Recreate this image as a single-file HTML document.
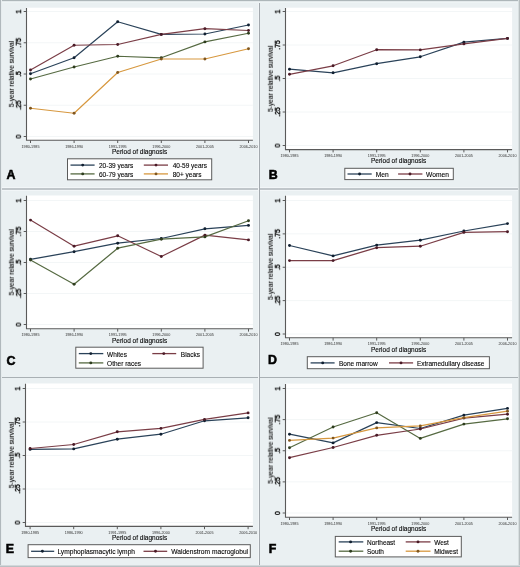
<!DOCTYPE html>
<html><head><meta charset="utf-8"><style>
html,body{margin:0;padding:0;background:#eaf0f2;}
svg{display:block;}
text{font-family:"Liberation Sans", sans-serif;fill:#000;stroke:#000;stroke-width:0.1px;will-change:transform;}
.yl{stroke-width:0.3px;}
.xl{stroke-width:0;fill:#333;}
</style></head><body>
<svg width="520" height="567" viewBox="0 0 520 567">
<rect x="0" y="0" width="520" height="567" fill="#eaf0f2"/>
<rect x="26.5" y="7.7" width="226.4" height="132.5" fill="#fff"/>
<line x1="26.5" x2="252.9" y1="136.5" y2="136.5" stroke="#f3f6f7" stroke-width="1"/>
<line x1="26.5" x2="252.9" y1="105.25" y2="105.25" stroke="#f3f6f7" stroke-width="1"/>
<line x1="26.5" x2="252.9" y1="74" y2="74" stroke="#f3f6f7" stroke-width="1"/>
<line x1="26.5" x2="252.9" y1="42.75" y2="42.75" stroke="#f3f6f7" stroke-width="1"/>
<line x1="26.5" x2="252.9" y1="11.5" y2="11.5" stroke="#f3f6f7" stroke-width="1"/>
<path d="M26.5 8V140.2H252.9" fill="none" stroke="#5a5a5a" stroke-width="1.1"/>
<line x1="23.7" x2="26.5" y1="136.5" y2="136.5" stroke="#5a5a5a" stroke-width="1"/>
<text transform="translate(20.95 136.5) rotate(-90)" text-anchor="middle" font-size="6.8" class="yl">0</text>
<line x1="23.7" x2="26.5" y1="105.25" y2="105.25" stroke="#5a5a5a" stroke-width="1"/>
<text transform="translate(20.95 105.25) rotate(-90)" text-anchor="middle" font-size="6.8" class="yl">.25</text>
<line x1="23.7" x2="26.5" y1="74" y2="74" stroke="#5a5a5a" stroke-width="1"/>
<text transform="translate(20.95 74) rotate(-90)" text-anchor="middle" font-size="6.8" class="yl">.5</text>
<line x1="23.7" x2="26.5" y1="42.75" y2="42.75" stroke="#5a5a5a" stroke-width="1"/>
<text transform="translate(20.95 42.75) rotate(-90)" text-anchor="middle" font-size="6.8" class="yl">.75</text>
<line x1="23.7" x2="26.5" y1="11.5" y2="11.5" stroke="#5a5a5a" stroke-width="1"/>
<text transform="translate(20.95 11.5) rotate(-90)" text-anchor="middle" font-size="6.8" class="yl">1</text>
<line x1="30.5" x2="30.5" y1="140.2" y2="143" stroke="#5a5a5a" stroke-width="1"/>
<text x="30.5" y="147.7" text-anchor="middle" font-size="3.75" class="xl">1980-1985</text>
<line x1="74.1" x2="74.1" y1="140.2" y2="143" stroke="#5a5a5a" stroke-width="1"/>
<text x="74.1" y="147.7" text-anchor="middle" font-size="3.75" class="xl">1986-1990</text>
<line x1="117.7" x2="117.7" y1="140.2" y2="143" stroke="#5a5a5a" stroke-width="1"/>
<text x="117.7" y="147.7" text-anchor="middle" font-size="3.75" class="xl">1991-1995</text>
<line x1="161.3" x2="161.3" y1="140.2" y2="143" stroke="#5a5a5a" stroke-width="1"/>
<text x="161.3" y="147.7" text-anchor="middle" font-size="3.75" class="xl">1996-2000</text>
<line x1="204.9" x2="204.9" y1="140.2" y2="143" stroke="#5a5a5a" stroke-width="1"/>
<text x="204.9" y="147.7" text-anchor="middle" font-size="3.75" class="xl">2001-2005</text>
<line x1="248.5" x2="248.5" y1="140.2" y2="143" stroke="#5a5a5a" stroke-width="1"/>
<text x="248.5" y="147.7" text-anchor="middle" font-size="3.75" class="xl">2006-2010</text>
<text x="112" y="153.8" font-size="6.45" textLength="55.2" lengthAdjust="spacingAndGlyphs">Period of diagnosis</text>
<text transform="translate(13.8 74.1) rotate(-90)" x="-33.1" font-size="6.6" textLength="66.2" lengthAdjust="spacingAndGlyphs">5-year relative survival</text>
<polyline points="30.5,73.75 74.1,57.75 117.7,21.75 161.3,34.4 204.9,34 248.5,25" fill="none" stroke="#2a4259" stroke-width="1.2" stroke-linejoin="round"/>
<circle cx="30.5" cy="73.75" r="1.45" fill="#101f30"/>
<circle cx="74.1" cy="57.75" r="1.45" fill="#101f30"/>
<circle cx="117.7" cy="21.75" r="1.45" fill="#101f30"/>
<circle cx="161.3" cy="34.4" r="1.45" fill="#101f30"/>
<circle cx="204.9" cy="34" r="1.45" fill="#101f30"/>
<circle cx="248.5" cy="25" r="1.45" fill="#101f30"/>
<polyline points="30.5,70 74.1,45.25 117.7,44.5 161.3,34.4 204.9,28.7 248.5,30.5" fill="none" stroke="#7a3d46" stroke-width="1.2" stroke-linejoin="round"/>
<circle cx="30.5" cy="70" r="1.45" fill="#4a1a26"/>
<circle cx="74.1" cy="45.25" r="1.45" fill="#4a1a26"/>
<circle cx="117.7" cy="44.5" r="1.45" fill="#4a1a26"/>
<circle cx="161.3" cy="34.4" r="1.45" fill="#4a1a26"/>
<circle cx="204.9" cy="28.7" r="1.45" fill="#4a1a26"/>
<circle cx="248.5" cy="30.5" r="1.45" fill="#4a1a26"/>
<polyline points="30.5,79 74.1,67 117.7,56.25 161.3,57.8 204.9,41.9 248.5,33.25" fill="none" stroke="#566a42" stroke-width="1.2" stroke-linejoin="round"/>
<circle cx="30.5" cy="79" r="1.45" fill="#2e3d1e"/>
<circle cx="74.1" cy="67" r="1.45" fill="#2e3d1e"/>
<circle cx="117.7" cy="56.25" r="1.45" fill="#2e3d1e"/>
<circle cx="161.3" cy="57.8" r="1.45" fill="#2e3d1e"/>
<circle cx="204.9" cy="41.9" r="1.45" fill="#2e3d1e"/>
<circle cx="248.5" cy="33.25" r="1.45" fill="#2e3d1e"/>
<polyline points="30.5,108.25 74.1,113.25 117.7,72.5 161.3,59 204.9,59 248.5,48.75" fill="none" stroke="#d7983f" stroke-width="1.2" stroke-linejoin="round"/>
<circle cx="30.5" cy="108.25" r="1.45" fill="#80561e"/>
<circle cx="74.1" cy="113.25" r="1.45" fill="#80561e"/>
<circle cx="117.7" cy="72.5" r="1.45" fill="#80561e"/>
<circle cx="161.3" cy="59" r="1.45" fill="#80561e"/>
<circle cx="204.9" cy="59" r="1.45" fill="#80561e"/>
<circle cx="248.5" cy="48.75" r="1.45" fill="#80561e"/>
<rect x="67.5" y="158.8" width="144.2" height="21" fill="#fff" stroke="#5a5a5a" stroke-width="1"/>
<line x1="70.5" x2="94.6" y1="165.1" y2="165.1" stroke="#2a4259" stroke-width="1.3"/>
<circle cx="82.7" cy="165.1" r="1.45" fill="#101f30"/>
<text x="99" y="168.1" font-size="6.5">20-39 years</text>
<line x1="143.8" x2="168" y1="165.1" y2="165.1" stroke="#7a3d46" stroke-width="1.3"/>
<circle cx="156" cy="165.1" r="1.45" fill="#4a1a26"/>
<text x="172.7" y="168.1" font-size="6.5">40-59 years</text>
<line x1="70.5" x2="94.6" y1="173.9" y2="173.9" stroke="#566a42" stroke-width="1.3"/>
<circle cx="82.7" cy="173.9" r="1.45" fill="#2e3d1e"/>
<text x="99" y="176.9" font-size="6.5">60-79 years</text>
<line x1="143.8" x2="168" y1="173.9" y2="173.9" stroke="#d7983f" stroke-width="1.3"/>
<circle cx="156" cy="173.9" r="1.45" fill="#80561e"/>
<text x="172.7" y="176.9" font-size="6.5">80+ years</text>
<text x="6.4" y="178.9" font-size="12.4" font-weight="bold" style="stroke-width:0.55px">A</text>
<rect x="285.5" y="7.7" width="226.6" height="141.9" fill="#fff"/>
<line x1="285.5" x2="512.1" y1="145.5" y2="145.5" stroke="#f3f6f7" stroke-width="1"/>
<line x1="285.5" x2="512.1" y1="112" y2="112" stroke="#f3f6f7" stroke-width="1"/>
<line x1="285.5" x2="512.1" y1="78.5" y2="78.5" stroke="#f3f6f7" stroke-width="1"/>
<line x1="285.5" x2="512.1" y1="45" y2="45" stroke="#f3f6f7" stroke-width="1"/>
<line x1="285.5" x2="512.1" y1="11.5" y2="11.5" stroke="#f3f6f7" stroke-width="1"/>
<path d="M285.5 8V149.6H512.1" fill="none" stroke="#5a5a5a" stroke-width="1.1"/>
<line x1="282.7" x2="285.5" y1="145.5" y2="145.5" stroke="#5a5a5a" stroke-width="1"/>
<text transform="translate(279.95 145.5) rotate(-90)" text-anchor="middle" font-size="6.8" class="yl">0</text>
<line x1="282.7" x2="285.5" y1="112" y2="112" stroke="#5a5a5a" stroke-width="1"/>
<text transform="translate(279.95 112) rotate(-90)" text-anchor="middle" font-size="6.8" class="yl">.25</text>
<line x1="282.7" x2="285.5" y1="78.5" y2="78.5" stroke="#5a5a5a" stroke-width="1"/>
<text transform="translate(279.95 78.5) rotate(-90)" text-anchor="middle" font-size="6.8" class="yl">.5</text>
<line x1="282.7" x2="285.5" y1="45" y2="45" stroke="#5a5a5a" stroke-width="1"/>
<text transform="translate(279.95 45) rotate(-90)" text-anchor="middle" font-size="6.8" class="yl">.75</text>
<line x1="282.7" x2="285.5" y1="11.5" y2="11.5" stroke="#5a5a5a" stroke-width="1"/>
<text transform="translate(279.95 11.5) rotate(-90)" text-anchor="middle" font-size="6.8" class="yl">1</text>
<line x1="289.5" x2="289.5" y1="149.6" y2="152.4" stroke="#5a5a5a" stroke-width="1"/>
<text x="289.5" y="156.8" text-anchor="middle" font-size="3.75" class="xl">1980-1985</text>
<line x1="333.1" x2="333.1" y1="149.6" y2="152.4" stroke="#5a5a5a" stroke-width="1"/>
<text x="333.1" y="156.8" text-anchor="middle" font-size="3.75" class="xl">1986-1990</text>
<line x1="376.7" x2="376.7" y1="149.6" y2="152.4" stroke="#5a5a5a" stroke-width="1"/>
<text x="376.7" y="156.8" text-anchor="middle" font-size="3.75" class="xl">1991-1995</text>
<line x1="420.3" x2="420.3" y1="149.6" y2="152.4" stroke="#5a5a5a" stroke-width="1"/>
<text x="420.3" y="156.8" text-anchor="middle" font-size="3.75" class="xl">1996-2000</text>
<line x1="463.9" x2="463.9" y1="149.6" y2="152.4" stroke="#5a5a5a" stroke-width="1"/>
<text x="463.9" y="156.8" text-anchor="middle" font-size="3.75" class="xl">2001-2005</text>
<line x1="507.5" x2="507.5" y1="149.6" y2="152.4" stroke="#5a5a5a" stroke-width="1"/>
<text x="507.5" y="156.8" text-anchor="middle" font-size="3.75" class="xl">2006-2010</text>
<text x="371" y="162.8" font-size="6.45" textLength="55.2" lengthAdjust="spacingAndGlyphs">Period of diagnosis</text>
<text transform="translate(272.8 78.8) rotate(-90)" x="-33.1" font-size="6.6" textLength="66.2" lengthAdjust="spacingAndGlyphs">5-year relative survival</text>
<polyline points="289.5,69.2 333.1,72.8 376.7,63.7 420.3,56.8 463.9,42.1 507.5,38.4" fill="none" stroke="#2a4259" stroke-width="1.2" stroke-linejoin="round"/>
<circle cx="289.5" cy="69.2" r="1.45" fill="#101f30"/>
<circle cx="333.1" cy="72.8" r="1.45" fill="#101f30"/>
<circle cx="376.7" cy="63.7" r="1.45" fill="#101f30"/>
<circle cx="420.3" cy="56.8" r="1.45" fill="#101f30"/>
<circle cx="463.9" cy="42.1" r="1.45" fill="#101f30"/>
<circle cx="507.5" cy="38.4" r="1.45" fill="#101f30"/>
<polyline points="289.5,74.3 333.1,65.8 376.7,49.7 420.3,49.9 463.9,43.9 507.5,38.4" fill="none" stroke="#7a3d46" stroke-width="1.2" stroke-linejoin="round"/>
<circle cx="289.5" cy="74.3" r="1.45" fill="#4a1a26"/>
<circle cx="333.1" cy="65.8" r="1.45" fill="#4a1a26"/>
<circle cx="376.7" cy="49.7" r="1.45" fill="#4a1a26"/>
<circle cx="420.3" cy="49.9" r="1.45" fill="#4a1a26"/>
<circle cx="463.9" cy="43.9" r="1.45" fill="#4a1a26"/>
<circle cx="507.5" cy="38.4" r="1.45" fill="#4a1a26"/>
<rect x="344.8" y="168.3" width="108.5" height="11.3" fill="#fff" stroke="#5a5a5a" stroke-width="1"/>
<line x1="347.5" x2="371.7" y1="174" y2="174" stroke="#2a4259" stroke-width="1.3"/>
<circle cx="359.6" cy="174" r="1.45" fill="#101f30"/>
<text x="375.8" y="177" font-size="6.65">Men</text>
<line x1="398.1" x2="422.4" y1="174" y2="174" stroke="#7a3d46" stroke-width="1.3"/>
<circle cx="410" cy="174" r="1.45" fill="#4a1a26"/>
<text x="426.1" y="177" font-size="6.65">Women</text>
<text x="268.7" y="178.8" font-size="12.4" font-weight="bold" style="stroke-width:0.55px">B</text>
<rect x="26.5" y="195.5" width="226.4" height="133.3" fill="#fff"/>
<line x1="26.5" x2="252.9" y1="324.5" y2="324.5" stroke="#f3f6f7" stroke-width="1"/>
<line x1="26.5" x2="252.9" y1="293.5" y2="293.5" stroke="#f3f6f7" stroke-width="1"/>
<line x1="26.5" x2="252.9" y1="262.5" y2="262.5" stroke="#f3f6f7" stroke-width="1"/>
<line x1="26.5" x2="252.9" y1="231.5" y2="231.5" stroke="#f3f6f7" stroke-width="1"/>
<line x1="26.5" x2="252.9" y1="200.5" y2="200.5" stroke="#f3f6f7" stroke-width="1"/>
<path d="M26.5 195.8V328.8H252.9" fill="none" stroke="#5a5a5a" stroke-width="1.1"/>
<line x1="23.7" x2="26.5" y1="324.5" y2="324.5" stroke="#5a5a5a" stroke-width="1"/>
<text transform="translate(20.95 324.5) rotate(-90)" text-anchor="middle" font-size="6.8" class="yl">0</text>
<line x1="23.7" x2="26.5" y1="293.5" y2="293.5" stroke="#5a5a5a" stroke-width="1"/>
<text transform="translate(20.95 293.5) rotate(-90)" text-anchor="middle" font-size="6.8" class="yl">.25</text>
<line x1="23.7" x2="26.5" y1="262.5" y2="262.5" stroke="#5a5a5a" stroke-width="1"/>
<text transform="translate(20.95 262.5) rotate(-90)" text-anchor="middle" font-size="6.8" class="yl">.5</text>
<line x1="23.7" x2="26.5" y1="231.5" y2="231.5" stroke="#5a5a5a" stroke-width="1"/>
<text transform="translate(20.95 231.5) rotate(-90)" text-anchor="middle" font-size="6.8" class="yl">.75</text>
<line x1="23.7" x2="26.5" y1="200.5" y2="200.5" stroke="#5a5a5a" stroke-width="1"/>
<text transform="translate(20.95 200.5) rotate(-90)" text-anchor="middle" font-size="6.8" class="yl">1</text>
<line x1="30.5" x2="30.5" y1="328.8" y2="331.6" stroke="#5a5a5a" stroke-width="1"/>
<text x="30.5" y="336" text-anchor="middle" font-size="3.75" class="xl">1980-1985</text>
<line x1="74.1" x2="74.1" y1="328.8" y2="331.6" stroke="#5a5a5a" stroke-width="1"/>
<text x="74.1" y="336" text-anchor="middle" font-size="3.75" class="xl">1986-1990</text>
<line x1="117.7" x2="117.7" y1="328.8" y2="331.6" stroke="#5a5a5a" stroke-width="1"/>
<text x="117.7" y="336" text-anchor="middle" font-size="3.75" class="xl">1991-1995</text>
<line x1="161.3" x2="161.3" y1="328.8" y2="331.6" stroke="#5a5a5a" stroke-width="1"/>
<text x="161.3" y="336" text-anchor="middle" font-size="3.75" class="xl">1996-2000</text>
<line x1="204.9" x2="204.9" y1="328.8" y2="331.6" stroke="#5a5a5a" stroke-width="1"/>
<text x="204.9" y="336" text-anchor="middle" font-size="3.75" class="xl">2001-2005</text>
<line x1="248.5" x2="248.5" y1="328.8" y2="331.6" stroke="#5a5a5a" stroke-width="1"/>
<text x="248.5" y="336" text-anchor="middle" font-size="3.75" class="xl">2006-2010</text>
<text x="112" y="342.5" font-size="6.45" textLength="55.2" lengthAdjust="spacingAndGlyphs">Period of diagnosis</text>
<text transform="translate(13.8 262.3) rotate(-90)" x="-33.1" font-size="6.6" textLength="66.2" lengthAdjust="spacingAndGlyphs">5-year relative survival</text>
<polyline points="30.5,259.3 74.1,251.7 117.7,243.2 161.3,238.5 204.9,228.8 248.5,225.4" fill="none" stroke="#2a4259" stroke-width="1.2" stroke-linejoin="round"/>
<circle cx="30.5" cy="259.3" r="1.45" fill="#101f30"/>
<circle cx="74.1" cy="251.7" r="1.45" fill="#101f30"/>
<circle cx="117.7" cy="243.2" r="1.45" fill="#101f30"/>
<circle cx="161.3" cy="238.5" r="1.45" fill="#101f30"/>
<circle cx="204.9" cy="228.8" r="1.45" fill="#101f30"/>
<circle cx="248.5" cy="225.4" r="1.45" fill="#101f30"/>
<polyline points="30.5,220.1 74.1,246.2 117.7,235.8 161.3,256.5 204.9,235.1 248.5,239.9" fill="none" stroke="#7a3d46" stroke-width="1.2" stroke-linejoin="round"/>
<circle cx="30.5" cy="220.1" r="1.45" fill="#4a1a26"/>
<circle cx="74.1" cy="246.2" r="1.45" fill="#4a1a26"/>
<circle cx="117.7" cy="235.8" r="1.45" fill="#4a1a26"/>
<circle cx="161.3" cy="256.5" r="1.45" fill="#4a1a26"/>
<circle cx="204.9" cy="235.1" r="1.45" fill="#4a1a26"/>
<circle cx="248.5" cy="239.9" r="1.45" fill="#4a1a26"/>
<polyline points="30.5,260 74.1,284.2 117.7,248.2 161.3,239.2 204.9,236.9 248.5,220.8" fill="none" stroke="#566a42" stroke-width="1.2" stroke-linejoin="round"/>
<circle cx="30.5" cy="260" r="1.45" fill="#2e3d1e"/>
<circle cx="74.1" cy="284.2" r="1.45" fill="#2e3d1e"/>
<circle cx="117.7" cy="248.2" r="1.45" fill="#2e3d1e"/>
<circle cx="161.3" cy="239.2" r="1.45" fill="#2e3d1e"/>
<circle cx="204.9" cy="236.9" r="1.45" fill="#2e3d1e"/>
<circle cx="248.5" cy="220.8" r="1.45" fill="#2e3d1e"/>
<rect x="75.8" y="347.2" width="127.3" height="21" fill="#fff" stroke="#5a5a5a" stroke-width="1"/>
<line x1="78.8" x2="103.3" y1="353.6" y2="353.6" stroke="#2a4259" stroke-width="1.3"/>
<circle cx="90.8" cy="353.6" r="1.45" fill="#101f30"/>
<text x="107.1" y="356.6" font-size="6.5">Whites</text>
<line x1="152.3" x2="176.2" y1="353.6" y2="353.6" stroke="#7a3d46" stroke-width="1.3"/>
<circle cx="163.8" cy="353.6" r="1.45" fill="#4a1a26"/>
<text x="180.8" y="356.6" font-size="6.5">Blacks</text>
<line x1="78.8" x2="103.3" y1="362.9" y2="362.9" stroke="#566a42" stroke-width="1.3"/>
<circle cx="90.8" cy="362.9" r="1.45" fill="#2e3d1e"/>
<text x="107.1" y="365.9" font-size="6.5">Other races</text>
<text x="6.4" y="364.5" font-size="12.4" font-weight="bold" style="stroke-width:0.55px">C</text>
<rect x="285.5" y="195.5" width="226.6" height="142.3" fill="#fff"/>
<line x1="285.5" x2="512.1" y1="334" y2="334" stroke="#f3f6f7" stroke-width="1"/>
<line x1="285.5" x2="512.1" y1="300.62" y2="300.62" stroke="#f3f6f7" stroke-width="1"/>
<line x1="285.5" x2="512.1" y1="267.25" y2="267.25" stroke="#f3f6f7" stroke-width="1"/>
<line x1="285.5" x2="512.1" y1="233.88" y2="233.88" stroke="#f3f6f7" stroke-width="1"/>
<line x1="285.5" x2="512.1" y1="200.5" y2="200.5" stroke="#f3f6f7" stroke-width="1"/>
<path d="M285.5 195.8V337.8H512.1" fill="none" stroke="#5a5a5a" stroke-width="1.1"/>
<line x1="282.7" x2="285.5" y1="334" y2="334" stroke="#5a5a5a" stroke-width="1"/>
<text transform="translate(279.95 334) rotate(-90)" text-anchor="middle" font-size="6.8" class="yl">0</text>
<line x1="282.7" x2="285.5" y1="300.62" y2="300.62" stroke="#5a5a5a" stroke-width="1"/>
<text transform="translate(279.95 300.62) rotate(-90)" text-anchor="middle" font-size="6.8" class="yl">.25</text>
<line x1="282.7" x2="285.5" y1="267.25" y2="267.25" stroke="#5a5a5a" stroke-width="1"/>
<text transform="translate(279.95 267.25) rotate(-90)" text-anchor="middle" font-size="6.8" class="yl">.5</text>
<line x1="282.7" x2="285.5" y1="233.88" y2="233.88" stroke="#5a5a5a" stroke-width="1"/>
<text transform="translate(279.95 233.88) rotate(-90)" text-anchor="middle" font-size="6.8" class="yl">.75</text>
<line x1="282.7" x2="285.5" y1="200.5" y2="200.5" stroke="#5a5a5a" stroke-width="1"/>
<text transform="translate(279.95 200.5) rotate(-90)" text-anchor="middle" font-size="6.8" class="yl">1</text>
<line x1="289.5" x2="289.5" y1="337.8" y2="340.6" stroke="#5a5a5a" stroke-width="1"/>
<text x="289.5" y="345" text-anchor="middle" font-size="3.75" class="xl">1980-1985</text>
<line x1="333.1" x2="333.1" y1="337.8" y2="340.6" stroke="#5a5a5a" stroke-width="1"/>
<text x="333.1" y="345" text-anchor="middle" font-size="3.75" class="xl">1986-1990</text>
<line x1="376.7" x2="376.7" y1="337.8" y2="340.6" stroke="#5a5a5a" stroke-width="1"/>
<text x="376.7" y="345" text-anchor="middle" font-size="3.75" class="xl">1991-1995</text>
<line x1="420.3" x2="420.3" y1="337.8" y2="340.6" stroke="#5a5a5a" stroke-width="1"/>
<text x="420.3" y="345" text-anchor="middle" font-size="3.75" class="xl">1996-2000</text>
<line x1="463.9" x2="463.9" y1="337.8" y2="340.6" stroke="#5a5a5a" stroke-width="1"/>
<text x="463.9" y="345" text-anchor="middle" font-size="3.75" class="xl">2001-2005</text>
<line x1="507.5" x2="507.5" y1="337.8" y2="340.6" stroke="#5a5a5a" stroke-width="1"/>
<text x="507.5" y="345" text-anchor="middle" font-size="3.75" class="xl">2006-2010</text>
<text x="371" y="351.9" font-size="6.45" textLength="55.2" lengthAdjust="spacingAndGlyphs">Period of diagnosis</text>
<text transform="translate(272.8 266.8) rotate(-90)" x="-33.1" font-size="6.6" textLength="66.2" lengthAdjust="spacingAndGlyphs">5-year relative survival</text>
<polyline points="289.5,245.5 333.1,255.9 376.7,245.1 420.3,240.2 463.9,231 507.5,223.6" fill="none" stroke="#2a4259" stroke-width="1.2" stroke-linejoin="round"/>
<circle cx="289.5" cy="245.5" r="1.45" fill="#101f30"/>
<circle cx="333.1" cy="255.9" r="1.45" fill="#101f30"/>
<circle cx="376.7" cy="245.1" r="1.45" fill="#101f30"/>
<circle cx="420.3" cy="240.2" r="1.45" fill="#101f30"/>
<circle cx="463.9" cy="231" r="1.45" fill="#101f30"/>
<circle cx="507.5" cy="223.6" r="1.45" fill="#101f30"/>
<polyline points="289.5,260.6 333.1,260.6 376.7,247.7 420.3,246.2 463.9,232.4 507.5,231.7" fill="none" stroke="#7a3d46" stroke-width="1.2" stroke-linejoin="round"/>
<circle cx="289.5" cy="260.6" r="1.45" fill="#4a1a26"/>
<circle cx="333.1" cy="260.6" r="1.45" fill="#4a1a26"/>
<circle cx="376.7" cy="247.7" r="1.45" fill="#4a1a26"/>
<circle cx="420.3" cy="246.2" r="1.45" fill="#4a1a26"/>
<circle cx="463.9" cy="232.4" r="1.45" fill="#4a1a26"/>
<circle cx="507.5" cy="231.7" r="1.45" fill="#4a1a26"/>
<rect x="307.3" y="356.7" width="182.1" height="12" fill="#fff" stroke="#5a5a5a" stroke-width="1"/>
<line x1="310.6" x2="334.6" y1="362.9" y2="362.9" stroke="#2a4259" stroke-width="1.3"/>
<circle cx="322.7" cy="362.9" r="1.45" fill="#101f30"/>
<text x="339" y="365.9" font-size="6.5">Bone marrow</text>
<line x1="389" x2="413.1" y1="362.9" y2="362.9" stroke="#7a3d46" stroke-width="1.3"/>
<circle cx="401" cy="362.9" r="1.45" fill="#4a1a26"/>
<text x="416.9" y="365.9" font-size="6.5">Extramedullary disease</text>
<text x="268.1" y="364" font-size="12.4" font-weight="bold" style="stroke-width:0.55px">D</text>
<rect x="25.5" y="383.5" width="227.4" height="142.9" fill="#fff"/>
<line x1="25.5" x2="252.9" y1="522.5" y2="522.5" stroke="#f3f6f7" stroke-width="1"/>
<line x1="25.5" x2="252.9" y1="489" y2="489" stroke="#f3f6f7" stroke-width="1"/>
<line x1="25.5" x2="252.9" y1="455.5" y2="455.5" stroke="#f3f6f7" stroke-width="1"/>
<line x1="25.5" x2="252.9" y1="422" y2="422" stroke="#f3f6f7" stroke-width="1"/>
<line x1="25.5" x2="252.9" y1="388.5" y2="388.5" stroke="#f3f6f7" stroke-width="1"/>
<path d="M25.5 383.8V526.4H252.9" fill="none" stroke="#5a5a5a" stroke-width="1.1"/>
<line x1="22.7" x2="25.5" y1="522.5" y2="522.5" stroke="#5a5a5a" stroke-width="1"/>
<text transform="translate(19.95 522.5) rotate(-90)" text-anchor="middle" font-size="6.8" class="yl">0</text>
<line x1="22.7" x2="25.5" y1="489" y2="489" stroke="#5a5a5a" stroke-width="1"/>
<text transform="translate(19.95 489) rotate(-90)" text-anchor="middle" font-size="6.8" class="yl">.25</text>
<line x1="22.7" x2="25.5" y1="455.5" y2="455.5" stroke="#5a5a5a" stroke-width="1"/>
<text transform="translate(19.95 455.5) rotate(-90)" text-anchor="middle" font-size="6.8" class="yl">.5</text>
<line x1="22.7" x2="25.5" y1="422" y2="422" stroke="#5a5a5a" stroke-width="1"/>
<text transform="translate(19.95 422) rotate(-90)" text-anchor="middle" font-size="6.8" class="yl">.75</text>
<line x1="22.7" x2="25.5" y1="388.5" y2="388.5" stroke="#5a5a5a" stroke-width="1"/>
<text transform="translate(19.95 388.5) rotate(-90)" text-anchor="middle" font-size="6.8" class="yl">1</text>
<line x1="30.1" x2="30.1" y1="526.4" y2="529.2" stroke="#5a5a5a" stroke-width="1"/>
<text x="30.1" y="533.6" text-anchor="middle" font-size="3.75" class="xl">1980-1985</text>
<line x1="73.7" x2="73.7" y1="526.4" y2="529.2" stroke="#5a5a5a" stroke-width="1"/>
<text x="73.7" y="533.6" text-anchor="middle" font-size="3.75" class="xl">1986-1990</text>
<line x1="117.3" x2="117.3" y1="526.4" y2="529.2" stroke="#5a5a5a" stroke-width="1"/>
<text x="117.3" y="533.6" text-anchor="middle" font-size="3.75" class="xl">1991-1995</text>
<line x1="160.9" x2="160.9" y1="526.4" y2="529.2" stroke="#5a5a5a" stroke-width="1"/>
<text x="160.9" y="533.6" text-anchor="middle" font-size="3.75" class="xl">1996-2000</text>
<line x1="204.5" x2="204.5" y1="526.4" y2="529.2" stroke="#5a5a5a" stroke-width="1"/>
<text x="204.5" y="533.6" text-anchor="middle" font-size="3.75" class="xl">2001-2005</text>
<line x1="248.1" x2="248.1" y1="526.4" y2="529.2" stroke="#5a5a5a" stroke-width="1"/>
<text x="248.1" y="533.6" text-anchor="middle" font-size="3.75" class="xl">2006-2010</text>
<text x="112" y="540.2" font-size="6.45" textLength="55.2" lengthAdjust="spacingAndGlyphs">Period of diagnosis</text>
<text transform="translate(13.8 455.1) rotate(-90)" x="-33.1" font-size="6.6" textLength="66.2" lengthAdjust="spacingAndGlyphs">5-year relative survival</text>
<polyline points="30.1,449.4 73.7,448.9 117.3,439.2 160.9,434.2 204.5,420.8 248.1,417.8" fill="none" stroke="#2a4259" stroke-width="1.2" stroke-linejoin="round"/>
<circle cx="30.1" cy="449.4" r="1.45" fill="#101f30"/>
<circle cx="73.7" cy="448.9" r="1.45" fill="#101f30"/>
<circle cx="117.3" cy="439.2" r="1.45" fill="#101f30"/>
<circle cx="160.9" cy="434.2" r="1.45" fill="#101f30"/>
<circle cx="204.5" cy="420.8" r="1.45" fill="#101f30"/>
<circle cx="248.1" cy="417.8" r="1.45" fill="#101f30"/>
<polyline points="30.1,448.5 73.7,444.5 117.3,431.8 160.9,428.4 204.5,419.4 248.1,412.9" fill="none" stroke="#7a3d46" stroke-width="1.2" stroke-linejoin="round"/>
<circle cx="30.1" cy="448.5" r="1.45" fill="#4a1a26"/>
<circle cx="73.7" cy="444.5" r="1.45" fill="#4a1a26"/>
<circle cx="117.3" cy="431.8" r="1.45" fill="#4a1a26"/>
<circle cx="160.9" cy="428.4" r="1.45" fill="#4a1a26"/>
<circle cx="204.5" cy="419.4" r="1.45" fill="#4a1a26"/>
<circle cx="248.1" cy="412.9" r="1.45" fill="#4a1a26"/>
<rect x="28.1" y="544.7" width="222.2" height="12.9" fill="#fff" stroke="#5a5a5a" stroke-width="1"/>
<line x1="31.1" x2="54.2" y1="551.3" y2="551.3" stroke="#2a4259" stroke-width="1.3"/>
<circle cx="42.4" cy="551.3" r="1.45" fill="#101f30"/>
<text x="57.4" y="554.3" font-size="6.65">Lymphoplasmacytic lymph</text>
<line x1="143.5" x2="167.2" y1="551.3" y2="551.3" stroke="#7a3d46" stroke-width="1.3"/>
<circle cx="155.5" cy="551.3" r="1.45" fill="#4a1a26"/>
<text x="171.2" y="554.3" font-size="6.65">Waldenstrom macroglobul</text>
<text x="5.8" y="553" font-size="12.4" font-weight="bold" style="stroke-width:0.55px">E</text>
<rect x="285.5" y="383.6" width="226.6" height="133.6" fill="#fff"/>
<line x1="285.5" x2="512.1" y1="513" y2="513" stroke="#f3f6f7" stroke-width="1"/>
<line x1="285.5" x2="512.1" y1="481.88" y2="481.88" stroke="#f3f6f7" stroke-width="1"/>
<line x1="285.5" x2="512.1" y1="450.75" y2="450.75" stroke="#f3f6f7" stroke-width="1"/>
<line x1="285.5" x2="512.1" y1="419.62" y2="419.62" stroke="#f3f6f7" stroke-width="1"/>
<line x1="285.5" x2="512.1" y1="388.5" y2="388.5" stroke="#f3f6f7" stroke-width="1"/>
<path d="M285.5 383.9V517.2H512.1" fill="none" stroke="#5a5a5a" stroke-width="1.1"/>
<line x1="282.7" x2="285.5" y1="513" y2="513" stroke="#5a5a5a" stroke-width="1"/>
<text transform="translate(279.95 513) rotate(-90)" text-anchor="middle" font-size="6.8" class="yl">0</text>
<line x1="282.7" x2="285.5" y1="481.88" y2="481.88" stroke="#5a5a5a" stroke-width="1"/>
<text transform="translate(279.95 481.88) rotate(-90)" text-anchor="middle" font-size="6.8" class="yl">.25</text>
<line x1="282.7" x2="285.5" y1="450.75" y2="450.75" stroke="#5a5a5a" stroke-width="1"/>
<text transform="translate(279.95 450.75) rotate(-90)" text-anchor="middle" font-size="6.8" class="yl">.5</text>
<line x1="282.7" x2="285.5" y1="419.62" y2="419.62" stroke="#5a5a5a" stroke-width="1"/>
<text transform="translate(279.95 419.62) rotate(-90)" text-anchor="middle" font-size="6.8" class="yl">.75</text>
<line x1="282.7" x2="285.5" y1="388.5" y2="388.5" stroke="#5a5a5a" stroke-width="1"/>
<text transform="translate(279.95 388.5) rotate(-90)" text-anchor="middle" font-size="6.8" class="yl">1</text>
<line x1="289.5" x2="289.5" y1="517.2" y2="520" stroke="#5a5a5a" stroke-width="1"/>
<text x="289.5" y="524.6" text-anchor="middle" font-size="3.75" class="xl">1980-1985</text>
<line x1="333.1" x2="333.1" y1="517.2" y2="520" stroke="#5a5a5a" stroke-width="1"/>
<text x="333.1" y="524.6" text-anchor="middle" font-size="3.75" class="xl">1986-1990</text>
<line x1="376.7" x2="376.7" y1="517.2" y2="520" stroke="#5a5a5a" stroke-width="1"/>
<text x="376.7" y="524.6" text-anchor="middle" font-size="3.75" class="xl">1991-1995</text>
<line x1="420.3" x2="420.3" y1="517.2" y2="520" stroke="#5a5a5a" stroke-width="1"/>
<text x="420.3" y="524.6" text-anchor="middle" font-size="3.75" class="xl">1996-2000</text>
<line x1="463.9" x2="463.9" y1="517.2" y2="520" stroke="#5a5a5a" stroke-width="1"/>
<text x="463.9" y="524.6" text-anchor="middle" font-size="3.75" class="xl">2001-2005</text>
<line x1="507.5" x2="507.5" y1="517.2" y2="520" stroke="#5a5a5a" stroke-width="1"/>
<text x="507.5" y="524.6" text-anchor="middle" font-size="3.75" class="xl">2006-2010</text>
<text x="371" y="531.2" font-size="6.45" textLength="55.2" lengthAdjust="spacingAndGlyphs">Period of diagnosis</text>
<text transform="translate(272.8 450.55) rotate(-90)" x="-33.1" font-size="6.6" textLength="66.2" lengthAdjust="spacingAndGlyphs">5-year relative survival</text>
<polyline points="289.5,434.2 333.1,442.9 376.7,422.6 420.3,428.5 463.9,415.1 507.5,408.4" fill="none" stroke="#2a4259" stroke-width="1.2" stroke-linejoin="round"/>
<circle cx="289.5" cy="434.2" r="1.45" fill="#101f30"/>
<circle cx="333.1" cy="442.9" r="1.45" fill="#101f30"/>
<circle cx="376.7" cy="422.6" r="1.45" fill="#101f30"/>
<circle cx="420.3" cy="428.5" r="1.45" fill="#101f30"/>
<circle cx="463.9" cy="415.1" r="1.45" fill="#101f30"/>
<circle cx="507.5" cy="408.4" r="1.45" fill="#101f30"/>
<polyline points="289.5,457.7 333.1,447.5 376.7,435.3 420.3,429 463.9,418.1 507.5,414.2" fill="none" stroke="#7a3d46" stroke-width="1.2" stroke-linejoin="round"/>
<circle cx="289.5" cy="457.7" r="1.45" fill="#4a1a26"/>
<circle cx="333.1" cy="447.5" r="1.45" fill="#4a1a26"/>
<circle cx="376.7" cy="435.3" r="1.45" fill="#4a1a26"/>
<circle cx="420.3" cy="429" r="1.45" fill="#4a1a26"/>
<circle cx="463.9" cy="418.1" r="1.45" fill="#4a1a26"/>
<circle cx="507.5" cy="414.2" r="1.45" fill="#4a1a26"/>
<polyline points="289.5,447.8 333.1,427 376.7,412.7 420.3,438.4 463.9,424.1 507.5,418.8" fill="none" stroke="#566a42" stroke-width="1.2" stroke-linejoin="round"/>
<circle cx="289.5" cy="447.8" r="1.45" fill="#2e3d1e"/>
<circle cx="333.1" cy="427" r="1.45" fill="#2e3d1e"/>
<circle cx="376.7" cy="412.7" r="1.45" fill="#2e3d1e"/>
<circle cx="420.3" cy="438.4" r="1.45" fill="#2e3d1e"/>
<circle cx="463.9" cy="424.1" r="1.45" fill="#2e3d1e"/>
<circle cx="507.5" cy="418.8" r="1.45" fill="#2e3d1e"/>
<polyline points="289.5,440.4 333.1,438.1 376.7,427.9 420.3,425.9 463.9,417.6 507.5,411.2" fill="none" stroke="#d7983f" stroke-width="1.2" stroke-linejoin="round"/>
<circle cx="289.5" cy="440.4" r="1.45" fill="#80561e"/>
<circle cx="333.1" cy="438.1" r="1.45" fill="#80561e"/>
<circle cx="376.7" cy="427.9" r="1.45" fill="#80561e"/>
<circle cx="420.3" cy="425.9" r="1.45" fill="#80561e"/>
<circle cx="463.9" cy="417.6" r="1.45" fill="#80561e"/>
<circle cx="507.5" cy="411.2" r="1.45" fill="#80561e"/>
<rect x="335.3" y="536.4" width="126" height="20.5" fill="#fff" stroke="#5a5a5a" stroke-width="1"/>
<line x1="338.7" x2="363.3" y1="541.9" y2="541.9" stroke="#2a4259" stroke-width="1.3"/>
<circle cx="350.6" cy="541.9" r="1.45" fill="#101f30"/>
<text x="367" y="544.9" font-size="6.5">Northeast</text>
<line x1="405.7" x2="430.5" y1="541.9" y2="541.9" stroke="#7a3d46" stroke-width="1.3"/>
<circle cx="418" cy="541.9" r="1.45" fill="#4a1a26"/>
<text x="434.2" y="544.9" font-size="6.5">West</text>
<line x1="338.7" x2="363.3" y1="551.2" y2="551.2" stroke="#566a42" stroke-width="1.3"/>
<circle cx="350.6" cy="551.2" r="1.45" fill="#2e3d1e"/>
<text x="367" y="554.2" font-size="6.5">South</text>
<line x1="405.7" x2="430.5" y1="551.2" y2="551.2" stroke="#d7983f" stroke-width="1.3"/>
<circle cx="418" cy="551.2" r="1.45" fill="#80561e"/>
<text x="434.2" y="554.2" font-size="6.5">Midwest</text>
<text x="268.7" y="553" font-size="12.4" font-weight="bold" style="stroke-width:0.55px">F</text>
<g shape-rendering="crispEdges">
<rect x="0" y="187" width="520" height="1" fill="#f2f6f8"/>
<rect x="0" y="190" width="520" height="1" fill="#f2f6f8"/>
<rect x="0" y="187.9" width="520" height="2" fill="#c0c6ca"/>
<rect x="0" y="376.75" width="520" height="1.5" fill="#a9b0b4"/>
<rect x="258" y="0" width="1" height="567" fill="#f1f5f7"/>
<rect x="259" y="0" width="1.2" height="567" fill="#a3a9ae"/>
<rect x="0" y="0" width="520" height="1" fill="#adb6b9"/>
<rect x="0" y="1" width="520" height="1" fill="#e4eaec"/>
<rect x="0" y="2" width="520" height="1" fill="#eef4f5"/>
<rect x="0" y="0" width="1" height="567" fill="#b0b8bc"/>
<rect x="1" y="0" width="1" height="567" fill="#e6ecee"/>
<rect x="518" y="0" width="1" height="567" fill="#d8dfe0"/>
<rect x="519" y="0" width="1" height="567" fill="#b8bfc1"/>
<rect x="0" y="565" width="520" height="1" fill="#d2d8db"/>
<rect x="0" y="566" width="520" height="1" fill="#b9c0c3"/>
</g>
</svg>
</body></html>
